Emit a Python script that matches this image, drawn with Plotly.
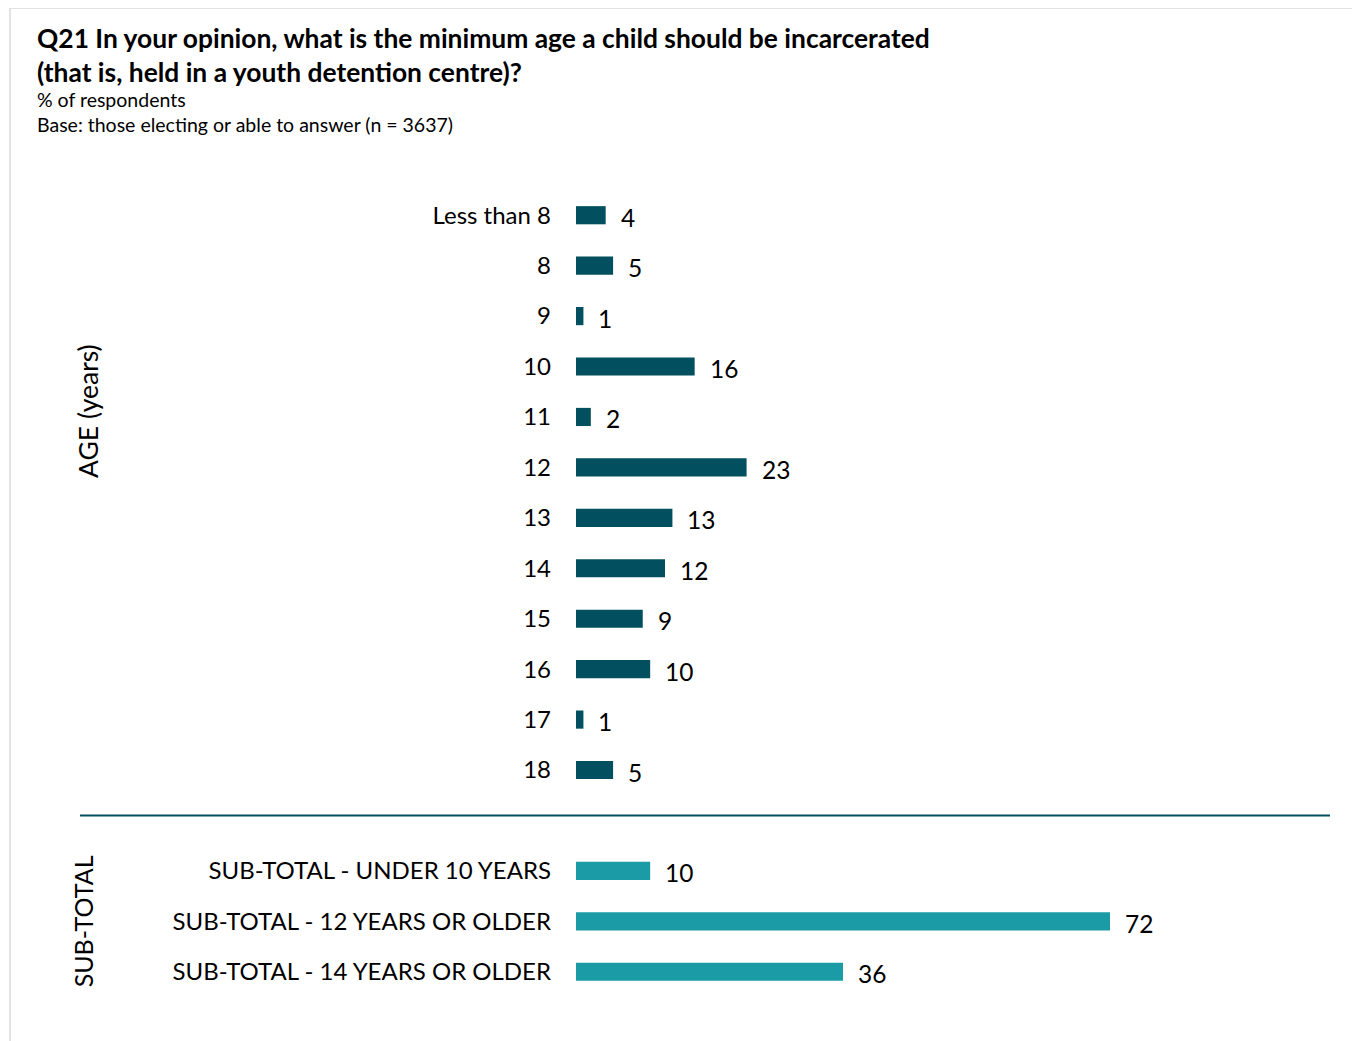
import plotly.graph_objects as go

# ---------------- data ----------------
age_labels = ["Less than 8", "8", "9", "10", "11", "12", "13", "14", "15", "16", "17", "18"]
age_values = [4, 5, 1, 16, 2, 23, 13, 12, 9, 10, 1, 5]
sub_labels = ["SUB-TOTAL - UNDER 10 YEARS", "SUB-TOTAL - 12 YEARS OR OLDER", "SUB-TOTAL - 14 YEARS OR OLDER"]
sub_values = [10, 72, 36]

title_lines = ["Q21 In your opinion, what is the minimum age a child should be incarcerated",
               "(that is, held in a youth detention centre)?"]
subtitle_lines = ["% of respondents", "Base: those electing or able to answer (n = 3637)"]

# ---------------- layout geometry ----------------
# page body has an 8px margin, so reference pixels are offset by 8
OFF = 8
W, H = 1352, 1033
ML, MT = 576 - OFF, 190 - OFF
PW, PH = 754, 807
MR = W - ML - PW
MB = H - MT - PH

def px_x(x):
    return (x - OFF - ML) / PW

def px_y(y):
    return (H - MB - (y - OFF)) / PH

DARK = "#02505F"
LIGHT = "#1A9BA6"
FONT = "Lato, 'Open Sans', sans-serif"

age_pos = list(range(len(age_labels)))
gap_pos = len(age_labels)
sub_pos = [gap_pos + 1 + i for i in range(len(sub_labels))]

fig = go.Figure()
fig.add_trace(go.Bar(x=age_values, y=age_pos, orientation="h", width=0.36,
                     marker=dict(color=DARK, line=dict(width=0)), hoverinfo="skip"))
fig.add_trace(go.Bar(x=sub_values, y=sub_pos, orientation="h", width=0.36,
                     marker=dict(color=LIGHT, line=dict(width=0)), hoverinfo="skip"))

annotations = []
for v, p in zip(age_values + sub_values, age_pos + sub_pos):
    annotations.append(dict(x=v, y=p, xref="x", yref="y", text=str(v), showarrow=False,
                            xanchor="left", yanchor="middle", xshift=13, yshift=-2,
                            font=dict(family=FONT, size=24.5, color="#000000")))

# titles
annotations.append(dict(x=px_x(35), y=px_y(20), xref="paper", yref="paper", showarrow=False,
                        xanchor="left", yanchor="top", align="left",
                        text="<b>" + title_lines[0] + "</b><br><b>" + title_lines[1] + "</b>",
                        font=dict(family=FONT, size=26.4, color="#000000")))
annotations.append(dict(x=px_x(35), y=px_y(86), xref="paper", yref="paper", showarrow=False,
                        xanchor="left", yanchor="top", align="left",
                        text=subtitle_lines[0] + "<br>" + subtitle_lines[1],
                        font=dict(family=FONT, size=19.5, color="#000000")))
# axis group titles
annotations.append(dict(x=px_x(88), y=px_y(411), xref="paper", yref="paper",
                        text="AGE (years)", textangle=-90, showarrow=False,
                        xanchor="center", yanchor="middle",
                        font=dict(family=FONT, size=26.5, color="#000000")))
annotations.append(dict(x=px_x(83), y=(sub_pos[0] + sub_pos[-1]) / 2, xref="paper", yref="y",
                        text="SUB-TOTAL", textangle=-90, showarrow=False,
                        xanchor="center", yanchor="middle",
                        font=dict(family=FONT, size=25, color="#000000")))

shapes = [
    dict(type="rect", xref="paper", yref="paper", x0=px_x(10), x1=px_x(1357), y0=px_y(1060), y1=px_y(8),
         line=dict(color="#D9D9D9", width=1.5), fillcolor="rgba(0,0,0,0)", layer="below"),
    dict(type="line", xref="paper", yref="y", x0=px_x(80), x1=px_x(1330), y0=gap_pos - 0.1, y1=gap_pos - 0.1,
         line=dict(color=DARK, width=2)),
]

fig.update_layout(
    width=W, height=H,
    margin=dict(l=ML, r=MR, t=MT, b=MB),
    paper_bgcolor="white", plot_bgcolor="white",
    showlegend=False,
    barmode="overlay",
    annotations=annotations,
    shapes=shapes,
    font=dict(family=FONT, color="#000000"),
)
fig.update_xaxes(visible=False, range=[0, PW / 7.417], fixedrange=True)
fig.update_yaxes(range=[sub_pos[-1] + 0.5, -0.5], tickvals=age_pos + sub_pos,
                 ticktext=age_labels + sub_labels, showgrid=False, zeroline=False,
                 showline=False, ticks="", ticklabelstandoff=24,
                 tickfont=dict(family=FONT, size=24, color="#000000"), fixedrange=True)

fig.write_html("out.html")
